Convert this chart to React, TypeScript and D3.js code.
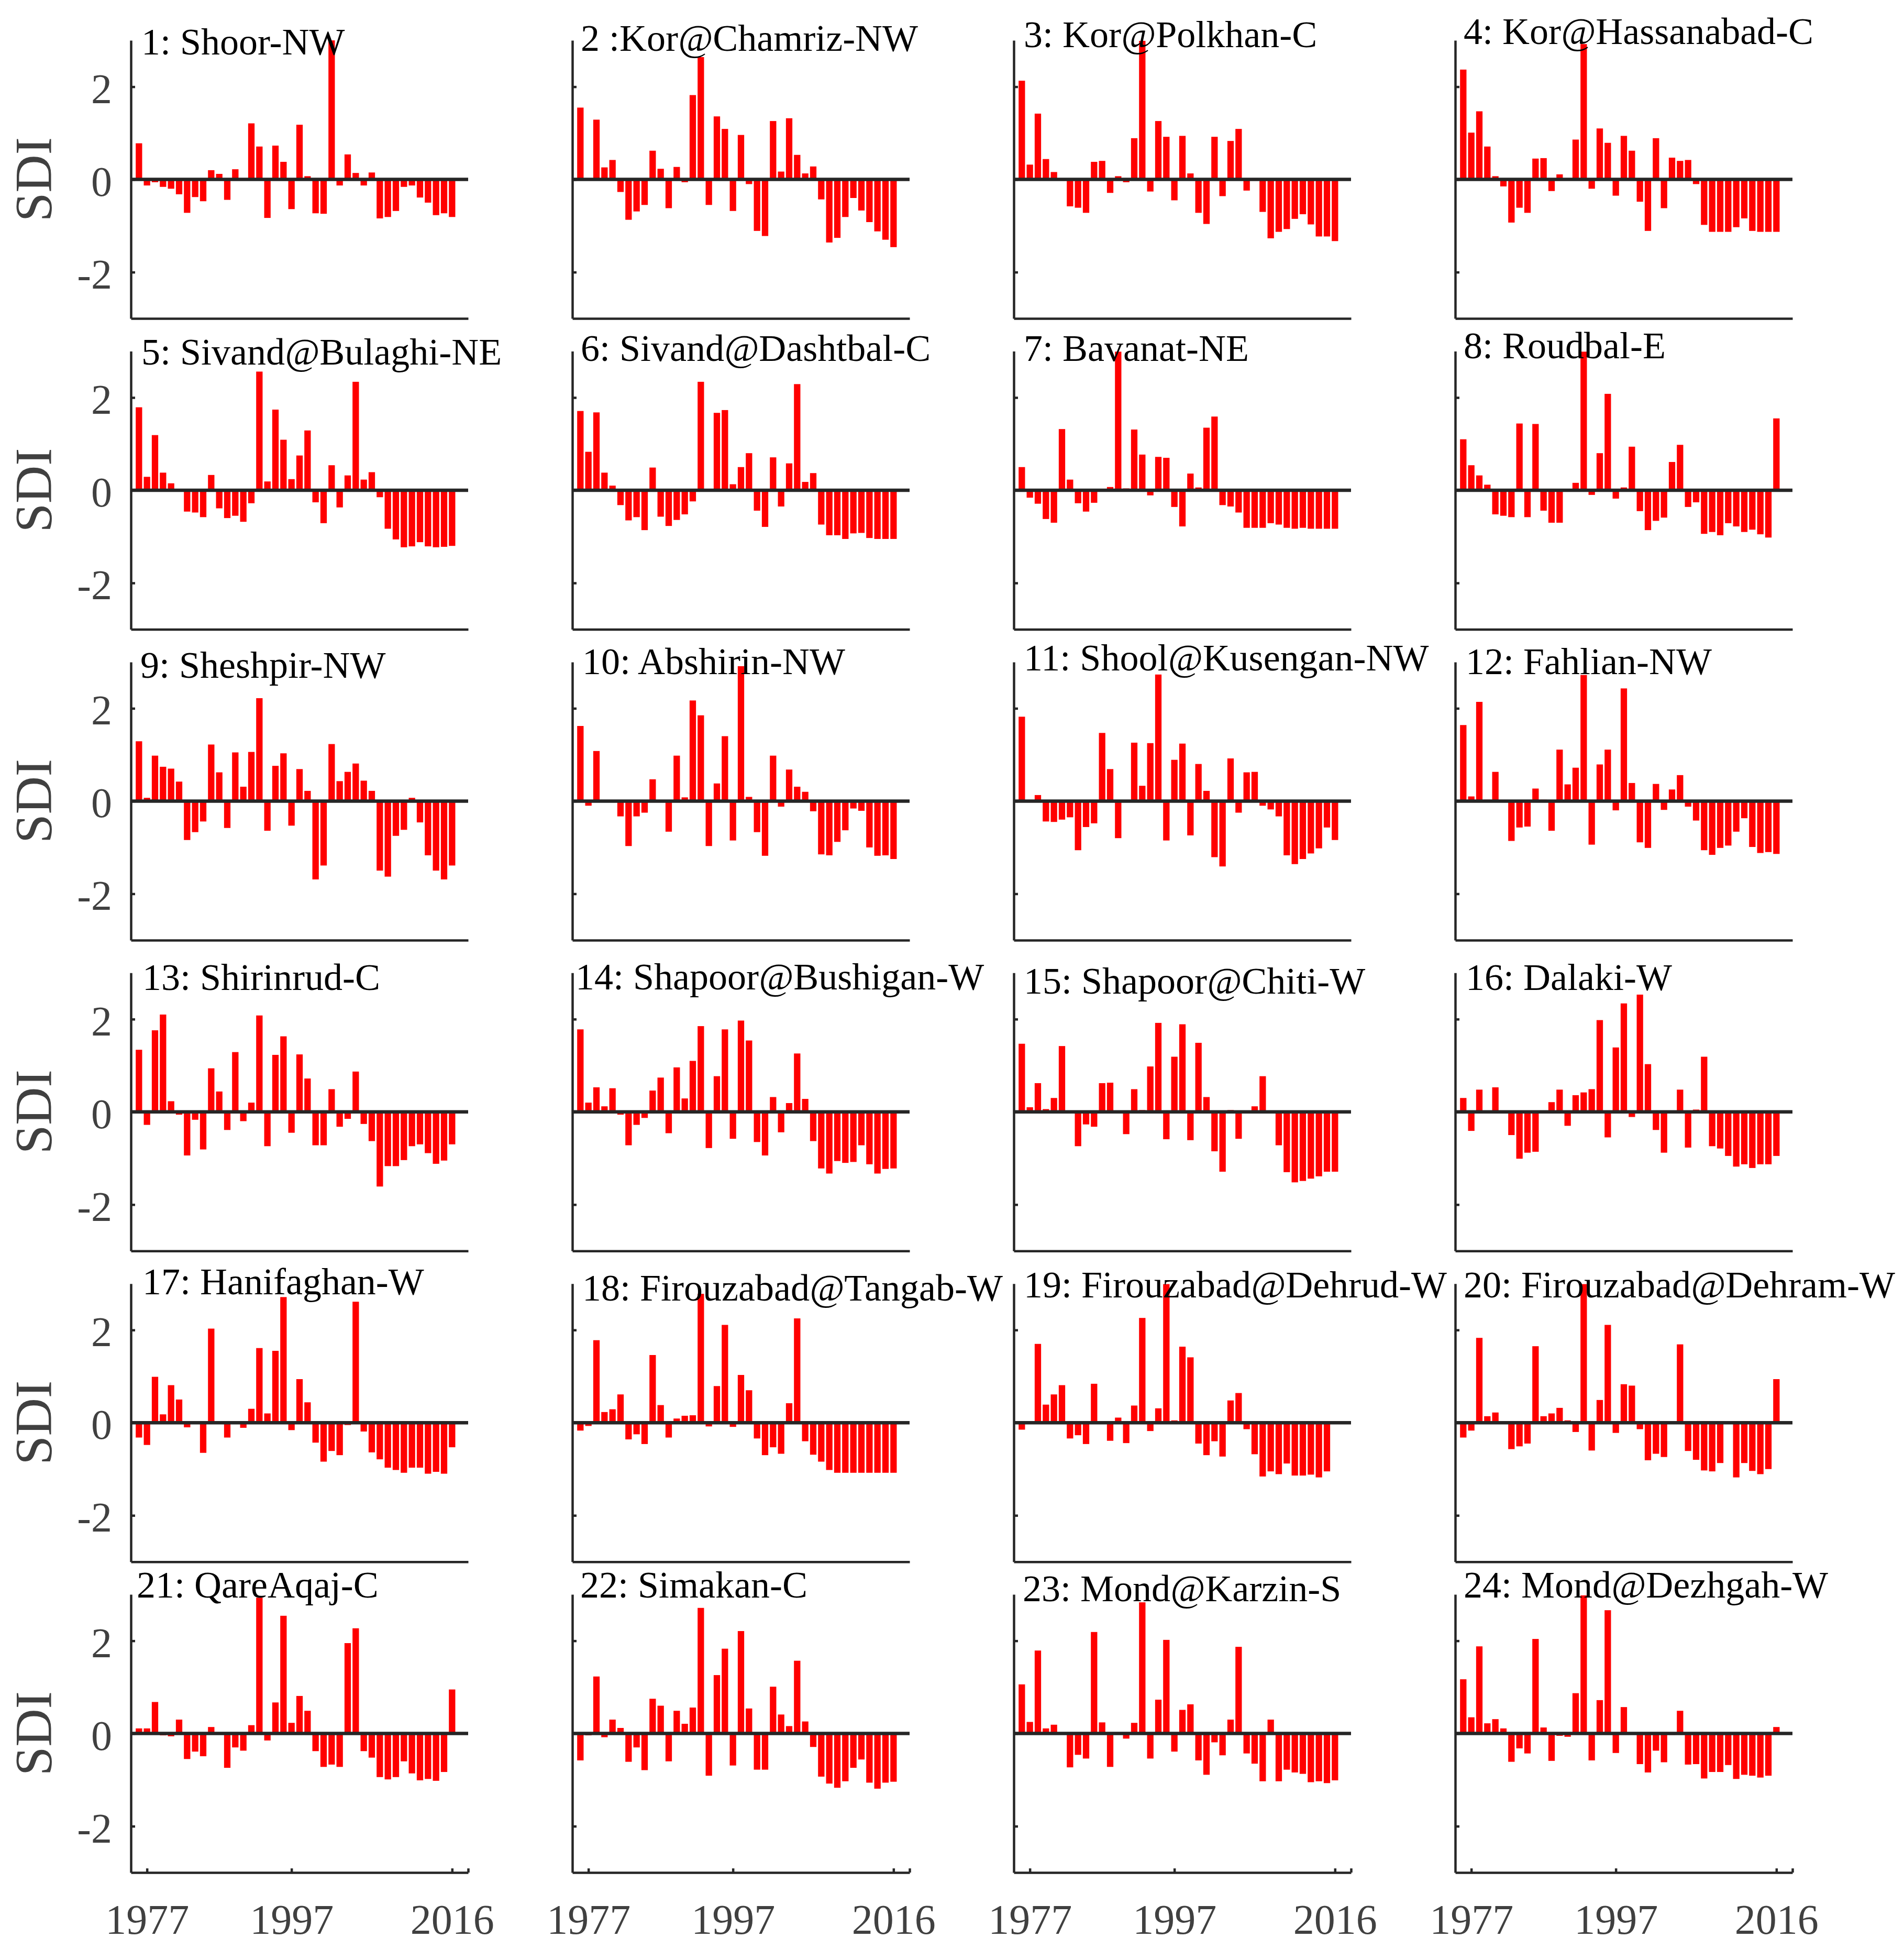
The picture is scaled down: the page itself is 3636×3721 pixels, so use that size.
import * as d3 from "d3";
import React, {Component} from "react";

const titles = [
  "1: Shoor-NW", "2 :Kor@Chamriz-NW", "3: Kor@Polkhan-C", "4: Kor@Hassanabad-C",
  "5: Sivand@Bulaghi-NE", "6: Sivand@Dashtbal-C", "7: Bavanat-NE", "8: Roudbal-E",
  "9: Sheshpir-NW", "10: Abshirin-NW", "11: Shool@Kusengan-NW", "12: Fahlian-NW",
  "13: Shirinrud-C", "14: Shapoor@Bushigan-W", "15: Shapoor@Chiti-W", "16: Dalaki-W",
  "17: Hanifaghan-W", "18: Firouzabad@Tangab-W", "19: Firouzabad@Dehrud-W", "20: Firouzabad@Dehram-W",
  "21: QareAqaj-C", "22: Simakan-C", "23: Mond@Karzin-S", "24: Mond@Dezhgah-W"
];

// SDI per year, 1977..2016 (40 values each)
const sdi01 = [0.78, -0.13, -0.06, -0.16, -0.20, -0.32, -0.72, -0.38, -0.47, 0.20, 0.12, -0.44, 0.22, 0.01, 1.21, 0.71, -0.83, 0.73, 0.38, -0.64, 1.18, 0.07, -0.73, -0.74, 3.0, -0.13, 0.54, 0.14, -0.13, 0.15, -0.84, -0.81, -0.68, -0.16, -0.13, -0.39, -0.50, -0.77, -0.73, -0.81];
const sdi02 = [1.55, 0.02, 1.29, 0.26, 0.42, -0.27, -0.87, -0.69, -0.55, 0.62, 0.23, -0.62, 0.27, -0.06, 1.82, 2.64, -0.55, 1.36, 1.09, -0.68, 0.96, -0.10, -1.11, -1.22, 1.26, 0.17, 1.32, 0.53, 0.13, 0.28, -0.43, -1.36, -1.26, -0.81, -0.40, -0.67, -0.92, -1.12, -1.30, -1.46];
const sdi03 = [2.13, 0.32, 1.42, 0.44, 0.16, 0.01, -0.58, -0.61, -0.72, 0.38, 0.40, -0.29, 0.07, -0.06, 0.89, 2.99, -0.26, 1.26, 0.92, -0.45, 0.94, 0.13, -0.72, -0.96, 0.92, -0.36, 0.83, 1.09, -0.24, 0.03, -0.70, -1.27, -1.13, -1.07, -0.85, -0.75, -0.97, -1.23, -1.23, -1.33];
const sdi04 = [2.37, 1.01, 1.47, 0.71, 0.07, -0.15, -0.93, -0.61, -0.72, 0.45, 0.46, -0.25, 0.11, 0.02, 0.86, 2.92, -0.20, 1.10, 0.79, -0.35, 0.94, 0.62, -0.48, -1.11, 0.89, -0.62, 0.47, 0.40, 0.42, -0.10, -0.98, -1.13, -1.13, -1.13, -1.03, -0.84, -1.11, -1.13, -1.13, -1.13];
const sdi05 = [1.79, 0.29, 1.19, 0.38, 0.15, 0.01, -0.46, -0.48, -0.58, 0.33, -0.39, -0.60, -0.55, -0.68, -0.28, 2.56, 0.19, 1.74, 1.09, 0.24, 0.75, 1.29, -0.26, -0.71, 0.54, -0.37, 0.32, 2.34, 0.23, 0.39, -0.15, -0.83, -1.06, -1.23, -1.21, -1.12, -1.21, -1.23, -1.22, -1.20];
const sdi06 = [1.71, 0.83, 1.68, 0.38, 0.10, -0.32, -0.65, -0.58, -0.86, 0.49, -0.57, -0.77, -0.64, -0.52, -0.24, 2.34, 0.03, 1.67, 1.73, 0.13, 0.50, 0.80, -0.44, -0.79, 0.71, -0.35, 0.58, 2.29, 0.18, 0.37, -0.74, -0.97, -0.97, -1.05, -0.93, -0.92, -1.03, -1.05, -1.05, -1.05];
const sdi07 = [0.50, -0.16, -0.29, -0.62, -0.70, 1.32, 0.23, -0.28, -0.46, -0.27, 0.0, 0.07, 2.99, 0.04, 1.31, 0.77, -0.11, 0.72, 0.70, -0.36, -0.78, 0.36, 0.06, 1.35, 1.59, -0.32, -0.35, -0.48, -0.81, -0.81, -0.81, -0.71, -0.74, -0.81, -0.83, -0.81, -0.83, -0.83, -0.83, -0.83];
const sdi08 = [1.10, 0.54, 0.32, 0.12, -0.52, -0.55, -0.58, 1.44, -0.58, 1.43, -0.44, -0.70, -0.70, 0.01, 0.16, 2.99, -0.10, 0.80, 2.08, -0.18, 0.06, 0.94, -0.45, -0.86, -0.66, -0.59, 0.61, 0.98, -0.36, -0.26, -0.94, -0.90, -0.97, -0.71, -0.78, -0.90, -0.85, -0.95, -1.02, 1.55];
const sdi09 = [1.29, 0.07, 0.98, 0.74, 0.70, 0.42, -0.84, -0.67, -0.44, 1.22, 0.62, -0.58, 1.05, 0.31, 1.06, 2.22, -0.64, 0.76, 1.03, -0.53, 0.69, 0.22, -1.69, -1.39, 1.23, 0.43, 0.63, 0.81, 0.44, 0.22, -1.50, -1.63, -0.75, -0.62, 0.07, -0.46, -1.17, -1.50, -1.69, -1.39];
const sdi10 = [1.62, -0.10, 1.08, -0.01, -0.01, -0.33, -0.97, -0.33, -0.25, 0.47, 0.0, -0.66, 0.98, 0.08, 2.17, 1.85, -0.97, 0.38, 1.40, -0.85, 2.91, 0.09, -0.67, -1.18, 0.98, -0.12, 0.68, 0.31, 0.20, -0.22, -1.15, -1.17, -0.88, -0.63, -0.16, -0.21, -1.00, -1.18, -1.17, -1.25];
const sdi11 = [1.82, -0.03, 0.13, -0.44, -0.45, -0.40, -0.35, -1.06, -0.56, -0.48, 1.47, 0.69, -0.80, 0.0, 1.26, 0.33, 1.25, 2.73, -0.85, 0.89, 1.24, -0.74, 0.80, 0.22, -1.21, -1.41, 0.92, -0.25, 0.62, 0.63, -0.10, -0.18, -0.33, -1.17, -1.36, -1.25, -1.13, -1.02, -0.57, -0.84];
const sdi12 = [1.64, 0.10, 2.14, 0.03, 0.63, 0.0, -0.86, -0.57, -0.55, 0.27, 0.03, -0.64, 1.11, 0.36, 0.72, 2.72, -0.94, 0.79, 1.11, -0.20, 2.43, 0.39, -0.89, -1.01, 0.37, -0.19, 0.25, 0.56, -0.12, -0.42, -1.06, -1.16, -1.01, -0.96, -0.66, -0.37, -0.99, -1.12, -1.10, -1.14];
const sdi13 = [1.34, -0.28, 1.76, 2.10, 0.23, -0.06, -0.94, -0.17, -0.81, 0.94, 0.44, -0.39, 1.29, -0.20, 0.20, 2.08, -0.74, 1.23, 1.63, -0.45, 1.24, 0.72, -0.72, -0.72, 0.49, -0.32, -0.15, 0.87, -0.26, -0.63, -1.61, -1.17, -1.17, -1.04, -0.74, -0.70, -0.89, -1.12, -1.05, -0.70];
const sdi14 = [1.78, 0.20, 0.53, 0.12, 0.51, -0.06, -0.72, -0.28, -0.13, 0.46, 0.74, -0.46, 0.96, 0.29, 1.10, 1.85, -0.78, 0.77, 1.78, -0.58, 1.97, 1.54, -0.65, -0.94, 0.32, -0.44, 0.19, 1.26, 0.28, -0.63, -1.22, -1.33, -1.06, -1.10, -1.08, -0.72, -1.13, -1.33, -1.23, -1.22];
const sdi15 = [1.47, 0.10, 0.62, 0.06, 0.30, 1.42, 0.0, -0.74, -0.27, -0.32, 0.62, 0.63, 0.0, -0.48, 0.49, 0.04, 0.98, 1.92, -0.59, 1.19, 1.89, -0.61, 1.49, 0.32, -0.85, -1.29, 0.04, -0.58, 0.0, 0.12, 0.77, 0.0, -0.72, -1.30, -1.52, -1.49, -1.44, -1.39, -1.29, -1.29];
const sdi16 = [0.30, -0.41, 0.48, 0.02, 0.53, 0.0, -0.50, -1.01, -0.88, -0.86, 0.0, 0.21, 0.48, -0.30, 0.36, 0.42, 0.49, 1.98, -0.55, 1.39, 2.34, -0.11, 2.53, 1.03, -0.39, -0.88, 0.0, 0.48, -0.77, 0.05, 1.19, -0.74, -0.79, -0.95, -1.18, -1.13, -1.21, -1.13, -1.13, -0.95];
const sdi17 = [-0.32, -0.48, 0.99, 0.18, 0.81, 0.50, -0.10, -0.01, -0.65, 2.03, 0.01, -0.32, 0.01, -0.11, 0.30, 1.61, 0.20, 1.55, 2.71, -0.16, 0.94, 0.44, -0.43, -0.84, -0.61, -0.70, -0.05, 2.61, -0.19, -0.64, -0.79, -0.97, -1.02, -1.08, -0.97, -0.97, -1.10, -1.06, -1.10, -0.53];
const sdi18 = [-0.17, -0.07, 1.78, 0.23, 0.29, 0.61, -0.36, -0.25, -0.46, 1.46, 0.38, -0.32, 0.09, 0.15, 0.16, 2.78, -0.08, 0.79, 2.11, -0.09, 1.03, 0.70, -0.34, -0.70, -0.53, -0.67, 0.42, 2.25, -0.40, -0.69, -0.84, -1.02, -1.08, -1.08, -1.08, -1.08, -1.08, -1.08, -1.08, -1.08];
const sdi19 = [-0.15, -0.01, 1.70, 0.39, 0.61, 0.81, -0.34, -0.27, -0.46, 0.84, 0.02, -0.39, 0.11, -0.44, 0.37, 2.26, -0.18, 0.31, 2.99, 0.05, 1.64, 1.41, -0.45, -0.70, -0.40, -0.73, 0.48, 0.64, -0.14, -0.68, -1.16, -1.05, -1.11, -0.88, -1.14, -1.14, -1.12, -1.18, -1.05, 0.02];
const sdi20 = [-0.32, -0.17, 1.83, 0.14, 0.22, 0.0, -0.57, -0.51, -0.45, 1.65, 0.14, 0.20, 0.32, 0.05, -0.20, 2.99, -0.60, 0.49, 2.11, -0.22, 0.83, 0.80, -0.14, -0.81, -0.67, -0.74, 0.02, 1.69, -0.61, -0.80, -1.03, -1.05, -0.87, -0.01, -1.18, -0.87, -1.04, -1.11, -1.00, 0.94];
const sdi21 = [0.11, 0.11, 0.68, -0.04, -0.06, 0.30, -0.55, -0.39, -0.49, 0.14, 0.0, -0.74, -0.30, -0.37, 0.18, 2.93, -0.15, 0.67, 2.54, 0.23, 0.81, 0.49, -0.38, -0.72, -0.67, -0.72, 1.95, 2.27, -0.38, -0.52, -0.94, -0.99, -0.94, -0.60, -0.86, -1.01, -0.98, -1.02, -0.83, 0.95];
const sdi22 = [-0.58, -0.04, 1.23, -0.08, 0.30, 0.12, -0.61, -0.30, -0.79, 0.75, 0.60, -0.60, 0.49, 0.21, 0.56, 2.71, -0.91, 1.26, 1.83, -0.69, 2.21, 0.54, -0.78, -0.78, 1.01, 0.41, 0.16, 1.57, 0.26, -0.29, -0.93, -1.08, -1.17, -1.03, -0.74, -0.56, -1.06, -1.19, -1.06, -1.04];
const sdi23 = [1.06, 0.25, 1.79, 0.11, 0.19, -0.02, -0.73, -0.46, -0.54, 2.19, 0.24, -0.72, 0.01, -0.11, 0.23, 2.83, -0.54, 0.73, 2.02, -0.39, 0.51, 0.63, -0.58, -0.89, -0.19, -0.47, 0.30, 1.87, -0.43, -0.65, -1.03, 0.30, -1.03, -0.78, -0.84, -0.87, -1.05, -1.03, -1.07, -1.01];
const sdi24 = [1.17, 0.35, 1.88, 0.22, 0.31, 0.11, -0.61, -0.32, -0.43, 2.04, 0.13, -0.59, -0.05, -0.07, 0.87, 2.98, -0.58, 0.72, 2.66, -0.42, 0.57, -0.02, -0.66, -0.84, -0.37, -0.62, -0.03, 0.49, -0.67, -0.66, -0.97, -0.83, -0.83, -0.68, -0.98, -0.89, -0.91, -0.95, -0.91, 0.14];

const stations = [sdi01, sdi02, sdi03, sdi04, sdi05, sdi06, sdi07, sdi08, sdi09, sdi10, sdi11, sdi12,
  sdi13, sdi14, sdi15, sdi16, sdi17, sdi18, sdi19, sdi20, sdi21, sdi22, sdi23, sdi24];

// bars sit at positions 1..40, ticks were put at bars 2, 20, 40 in the original
const xTickPos = [2, 20, 40, 42];
const xTickLabels = ["1977", "1997", "2016", ""];
const yTicks = [-2, 0, 2];

// title nudges [dx, dy] per panel (texts were placed by hand)
const titleNudge = [[20, 27], [16, 20], [19, 13], [16, 7], [20, 25], [16, 18], [19, 18], [16, 13],
  [18, 30], [19, 23], [19, 16], [20, 23], [22, 33], [6, 32], [19, 40], [20, 33],
  [22, 20], [19, 32], [19, 26], [16, 26], [11, 6], [15, 6], [17, 13], [16, 6]];

export default class App extends Component {
  node: SVGSVGElement | null = null;

  componentDidMount() {
    this.createChart();
  }

  createChart() {
    const left0 = 250, colStep = 843, panelW = 644;
    const zero0 = 342.6, rowStep = 593.4, halfH = 265.5;
    const font = "'Liberation Serif', 'Times New Roman', serif";
    const axisColor = "#262626";
    const labelColor = "#404040";

    const svg = d3.select(this.node);
    svg.selectAll("*").remove();

    stations.forEach((vals, k) => {
      const col = k % 4, row = Math.floor(k / 4);
      const x0 = left0 + col * colStep;
      const zy = zero0 + row * rowStep;
      const x = d3.scaleLinear().domain([0, 42]).range([x0, x0 + panelW]);
      const y = d3.scaleLinear().domain([-3, 3]).range([zy + halfH, zy - halfH]).clamp(true);
      const step = x(1) - x(0);
      const g = svg.append("g");

      g.append("g").selectAll("rect")
          .data(vals)
          .join("rect")
          .attr("x", (d, i) => x(i + 1) - 0.4 * step)
          .attr("width", 0.8 * step)
          .attr("y", d => y(Math.max(0, d)))
          .attr("height", d => Math.abs(y(d) - y(0)))
          .attr("fill", "#ff0000");

      // bar baseline
      g.append("line")
          .attr("x1", x(0)).attr("x2", x(42))
          .attr("y1", y(0)).attr("y2", y(0))
          .attr("stroke", axisColor)
          .attr("stroke-width", 6.5);

      const yAxis = d3.axisLeft(y)
          .tickValues(yTicks)
          .tickSizeInner(-8)
          .tickSizeOuter(0)
          .tickPadding(36)
          .tickFormat(d => col === 0 ? String(d) : "");

      const last = row === 5;
      const xAxis = d3.axisBottom(x)
          .tickValues(last ? xTickPos : [])
          .tickSizeInner(-8)
          .tickSizeOuter(0)
          .tickPadding(60)
          .tickFormat((d, i) => xTickLabels[i]);

      const styleAxis = a => a
          .attr("font-family", font)
          .attr("font-size", 80)
          .call(a => a.select(".domain").attr("stroke", axisColor).attr("stroke-width", 4.5))
          .call(a => a.selectAll(".tick line").attr("stroke", axisColor).attr("stroke-width", 4.5))
          .call(a => a.selectAll(".tick text").attr("fill", labelColor));

      g.append("g")
          .attr("transform", `translate(${x0},0)`)
          .call(yAxis)
          .call(styleAxis)
          .call(a => a.selectAll(".tick text").attr("dy", "0.38em"));

      g.append("g")
          .attr("transform", `translate(0,${zy + halfH})`)
          .call(xAxis)
          .call(styleAxis);

      if (col === 0) {
        g.append("text")
            .attr("transform", `translate(97,${zy}) rotate(-90)`)
            .attr("text-anchor", "middle")
            .attr("font-family", font)
            .attr("font-size", 100)
            .attr("fill", labelColor)
            .text("SDI");
      }

      const [dx, dy] = titleNudge[k];
      const t = g.append("text")
          .attr("x", x0 + dx)
          .attr("y", zy - halfH + dy)
          .attr("font-family", font)
          .attr("font-size", 72)
          .attr("fill", "#000");
      titles[k].split("@").forEach((part, i) => {
        if (i > 0) t.append("tspan").attr("font-style", "italic").text("@");
        t.append("tspan").text(part);
      });
    });
  }

  render() {
    return (
        <div style={{position: "absolute", left: 0, top: 0, background: "#fff"}}>
          <svg ref={node => this.node = node} width={3636} height={3721}
               style={{display: "block", background: "#fff"}}/>
        </div>
    );
  }
}
